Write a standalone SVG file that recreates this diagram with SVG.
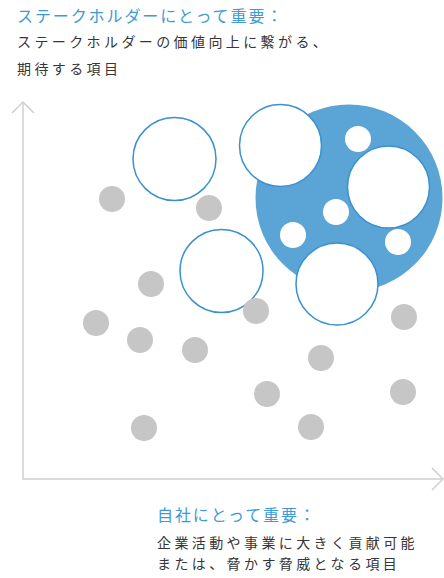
<svg xmlns="http://www.w3.org/2000/svg" width="444" height="578" viewBox="0 0 444 578">
<style>
.ttl{font-family:"Noto Sans CJK JP","Noto Sans",sans-serif;font-size:16px;fill:#3d9ad6;letter-spacing:1.9px}
.body{font-family:"Noto Sans CJK JP","Noto Sans",sans-serif;font-size:14px;fill:#363636;letter-spacing:3.4px}
.ring{fill:#fff;stroke:#3a90d0;stroke-width:1.5}
.dot{fill:#c6c6c6}
.hole{fill:#fff}
.axis{fill:none;stroke:#cfcfcf;stroke-width:1.5}
</style>
<rect width="444" height="578" fill="#fff"/>
<g id="connectors">
<path class="axis" d="M23 102 V479 H443"/>
<path class="axis" d="M12 113 L23 102 L34 113"/>
<path class="axis" d="M432 468 L443 479 L432 490"/>
</g>
<g id="labels">
<text class="ttl" x="17" y="22">ステークホルダーにとって重要：</text>
<text class="body" x="17" y="46.5">ステークホルダーの価値向上に繋がる、</text>
<text class="body" x="17" y="73.5">期待する項目</text>
<text class="ttl" x="157" y="520.5">自社にとって重要：</text>
<text class="body" x="157" y="547.5">企業活動や事業に大きく貢献可能</text>
<text class="body" x="157" y="568.5" letter-spacing="2.8">または、脅かす脅威となる項目</text>
</g>
<g id="cluster">
<circle cx="349" cy="198" r="93.5" fill="#5ba4d6"/>
<circle class="hole" cx="358" cy="139" r="13"/>
<circle class="hole" cx="336" cy="212" r="13"/>
<circle class="hole" cx="293" cy="235" r="13"/>
<circle class="hole" cx="398" cy="242" r="13"/>
</g>
<g id="ring1"><circle class="ring" cx="174.5" cy="159" r="41.5"/></g>
<g id="ring2"><circle class="ring" cx="221.5" cy="271" r="41.5"/></g>
<g id="ring3"><circle class="ring" cx="280.5" cy="145.5" r="41"/></g>
<g id="ring4"><circle class="ring" cx="388.5" cy="187" r="41"/></g>
<g id="ring5"><circle class="ring" cx="337" cy="284" r="41"/></g>
<g id="dots">
<circle class="dot" cx="112" cy="199" r="13"/>
<circle class="dot" cx="209" cy="208" r="13"/>
<circle class="dot" cx="151" cy="284" r="13"/>
<circle class="dot" cx="256" cy="311" r="13"/>
<circle class="dot" cx="96" cy="323" r="13"/>
<circle class="dot" cx="140" cy="340" r="13"/>
<circle class="dot" cx="195" cy="350" r="13"/>
<circle class="dot" cx="404" cy="317" r="13"/>
<circle class="dot" cx="321" cy="358" r="13"/>
<circle class="dot" cx="267" cy="394" r="13"/>
<circle class="dot" cx="403" cy="392" r="13"/>
<circle class="dot" cx="144" cy="428" r="13"/>
<circle class="dot" cx="311" cy="427" r="13"/>
</g>
</svg>
